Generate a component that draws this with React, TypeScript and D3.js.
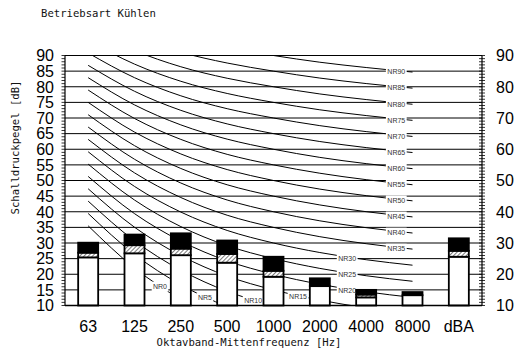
import React from "react";
import * as d3 from "d3";

const categories = ["63", "125", "250", "500", "1000", "2000", "4000", "8000", "dBA"];
// stacked bar levels [dB]
const baseLevel = [25.4, 26.7, 26.1, 23.7, 19.2, 16.2, 12.6, 13.3, 25.6];
const hatchLevel = [26.9, 29.3, 28.2, 26.5, 21.1, 16.2, 13.5, 13.3, 27.5];
const totalLevel = [30.1, 32.7, 33.1, 30.8, 25.6, 18.7, 15.0, 14.3, 31.5];

// NR curve coefficients per octave band (63 .. 8000 Hz): L = a + b * NR
const nrA = [35.5, 22.0, 12.0, 4.8, 0, -3.5, -6.1, -8.0];
const nrB = [0.79, 0.87, 0.93, 0.974, 1.0, 1.015, 1.025, 1.03];
const nrNumbers = [0, 5, 10, 15, 20, 25, 30, 35, 40, 45, 50, 55, 60, 65, 70, 75, 80, 85, 90];
// label position along band index
const nrLabelPos = [1.55, 2.52, 3.56, 4.53, 5.59, 5.59, 5.59, 6.65, 6.65, 6.65, 6.65, 6.65, 6.65, 6.65, 6.65, 6.65, 6.65, 6.65, 6.65];

const leftTicks = [10, 15, 20, 25, 30, 35, 40, 45, 50, 55, 60, 65, 70, 75, 80, 85, 90];
const rightTicks = [10, 20, 30, 40, 50, 60, 70, 80, 90];

const W = 515;
const H = 358;
const L = 65;
const R = 482;
const T = 55.5;
const B = 305.5;

export default function App() {
  const x = d3.scaleBand<string>().domain(categories).range([L, R]).padding(0);
  const y = d3.scaleLinear().domain([10, 90]).range([B, T]);
  const cx = (i: number) => (x(categories[i]) as number) + x.bandwidth() / 2;
  const xi = d3.scaleLinear().domain([0, 1]).range([cx(0), cx(1)]);
  const barW = 20;

  const line = d3
    .line<[number, number]>()
    .x((d) => xi(d[0]))
    .y((d) => y(d[1]))
    .curve(d3.curveMonotoneX);

  const minor = d3.range(10, 91, 1);

  const curves = nrNumbers.map((nr) => nrA.map((a, i) => [i, a + nrB[i] * nr] as [number, number]));

  // value of curve at fractional index (approx along monotone spline: linear fallback)
  const pathEls: React.ReactNode[] = [];
  const labels: React.ReactNode[] = [];

  return (
    <svg width={W} height={H} style={{ position: "absolute", left: 0, top: 0, background: "#fff" }}>
      <defs>
        <clipPath id="plot">
          <rect x={L} y={T} width={R - L} height={B - T} />
        </clipPath>
        <pattern id="hatch" width="3" height="3" patternUnits="userSpaceOnUse" patternTransform="rotate(45)">
          <rect width="3" height="3" fill="#fff" />
          <line x1="0" y1="0" x2="0" y2="3" stroke="#333" strokeWidth="1.3" />
        </pattern>
      </defs>
      <rect x={0} y={0} width={W} height={H} fill="#fff" />

      <text x={41} y={17} fontFamily="DejaVu Sans Mono" fontSize={10.6} fill="#111">
        Betriebsart Kühlen
      </text>

      {/* grid lines */}
      {leftTicks.map((t) => (
        <line key={"g" + t} x1={L} x2={R} y1={y(t)} y2={y(t)} stroke="#000" strokeWidth={1} />
      ))}

      {/* NR curves */}
      <g clipPath="url(#plot)">
        {curves.map((c, k) => (
          <path key={"c" + k} d={line(c) as string} fill="none" stroke="#000" strokeWidth={1} />
        ))}
      </g>

      {/* NR labels */}
      {nrNumbers.map((nr, k) => {
        const p = nrLabelPos[k];
        const i0 = Math.floor(p);
        const f = p - i0;
        const v = curves[k][i0][1] * (1 - f) + curves[k][i0 + 1][1] * f;
        const lx = xi(p);
        const ly = y(v) + 1.5;
        const txt = "NR" + nr;
        const w = txt.length * 4.2 + 4;
        return (
          <g key={"l" + k}>
            <rect x={lx - w / 2} y={ly - 5} width={w} height={10} fill="#fff" />
            <text x={lx} y={ly} dy="0.35em" textAnchor="middle" fontFamily="Liberation Sans, Arial" fontSize={7} fill="#333">
              {txt}
            </text>
          </g>
        );
      })}

      {/* bars */}
      {categories.map((c, i) => {
        const bx = cx(i) - barW / 2;
        return (
          <g key={"b" + c}>
            <rect x={bx} y={y(baseLevel[i])} width={barW} height={y(10) - y(baseLevel[i])} fill="#fff" stroke="#000" strokeWidth={1.8} />
            {hatchLevel[i] > baseLevel[i] && (
              <rect x={bx} y={y(hatchLevel[i])} width={barW} height={y(baseLevel[i]) - y(hatchLevel[i])} fill="url(#hatch)" stroke="#000" strokeWidth={1.8} />
            )}
            <rect x={bx} y={y(totalLevel[i])} width={barW} height={y(hatchLevel[i]) - y(totalLevel[i])} fill="#000" stroke="#000" strokeWidth={1.8} />
          </g>
        );
      })}

      {/* axes */}
      <line x1={L} x2={L} y1={T} y2={B} stroke="#000" strokeWidth={1.2} />
      <line x1={R} x2={R} y1={T} y2={B} stroke="#000" strokeWidth={1.2} />
      <line x1={L} x2={R} y1={B} y2={B} stroke="#000" strokeWidth={1.5} />
      {minor.map((t) => (
        <line key={"lm" + t} x1={L - 3.5} x2={L} y1={y(t)} y2={y(t)} stroke="#000" strokeWidth={0.8} />
      ))}
      {minor.map((t) => (
        <line key={"rm" + t} x1={R - 3} x2={R + 3} y1={y(t)} y2={y(t)} stroke="#000" strokeWidth={0.8} />
      ))}

      {leftTicks.map((t) => (
        <text key={"lt" + t} x={54} y={y(t)} dy="0.36em" textAnchor="end" fontFamily="Liberation Sans, Arial" fontSize={16} fill="#000">
          {t}
        </text>
      ))}
      {rightTicks.map((t) => (
        <text key={"rt" + t} x={496} y={y(t)} dy="0.36em" textAnchor="start" fontFamily="Liberation Sans, Arial" fontSize={16} fill="#000">
          {t}
        </text>
      ))}
      {categories.map((c, i) => (
        <text key={"xt" + c} x={cx(i)} y={332} textAnchor="middle" fontFamily="Liberation Sans, Arial" fontSize={16} fill="#000">
          {c}
        </text>
      ))}

      <text x={249} y={346} textAnchor="middle" fontFamily="DejaVu Sans Mono" fontSize={10.6} fill="#111">
        Oktavband-Mittenfrequenz [Hz]
      </text>
      <text transform="translate(15,147.5) rotate(-90)" textAnchor="middle" dy="0.35em" fontFamily="DejaVu Sans Mono" fontSize={10.6} fill="#111">
        Schalldruckpegel [dB]
      </text>
    </svg>
  );
}
